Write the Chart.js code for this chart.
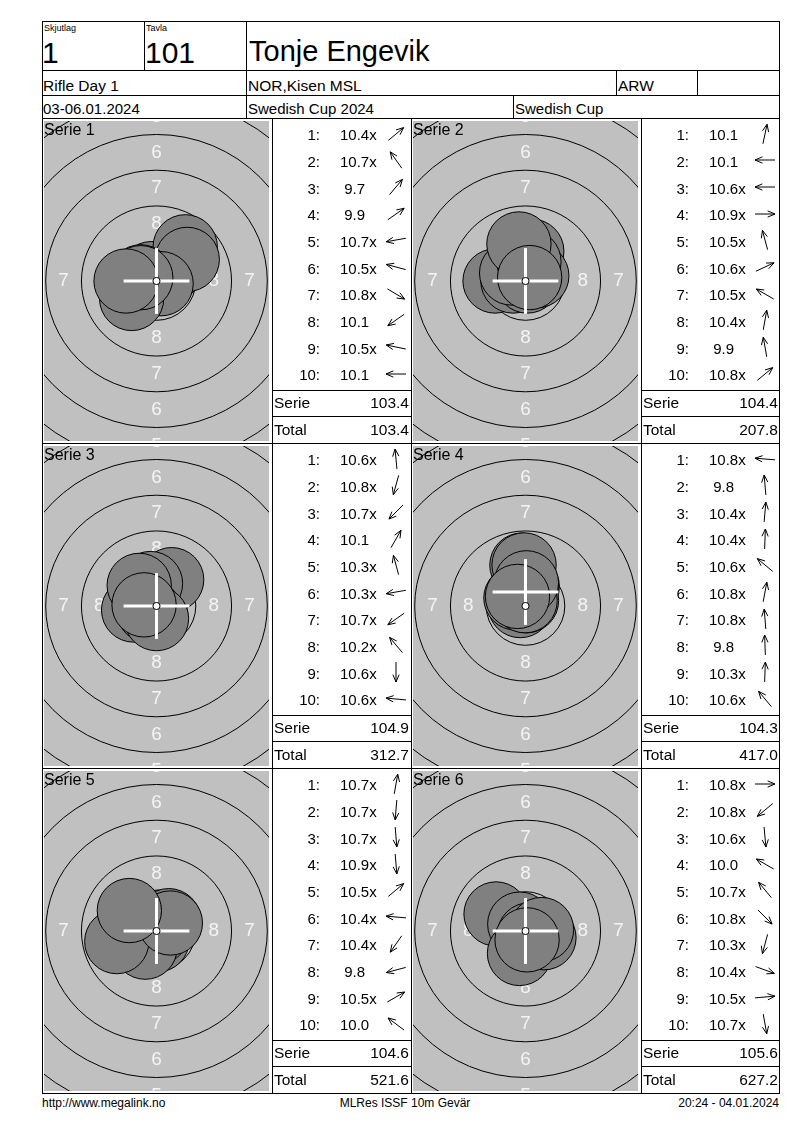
<!DOCTYPE html>
<html>
<head>
<meta charset="utf-8">
<script src="https://cdn.jsdelivr.net/npm/chart.js@4.4.1/dist/chart.umd.min.js"></script>
<style>
body { margin: 0; background: #fff; font-family: "Liberation Sans", Arial, sans-serif; color: #000; }
#page { position: relative; width: 800px; height: 1130px; overflow: hidden; }
.ln { position: absolute; background: #000; }
.t { position: absolute; white-space: pre; line-height: 1; }
canvas { position: absolute; }
</style>
</head>
<body>
<div id="page"></div>
<script>
// shot scores as printed, and shot centres in mm from the target centre (+y = up)
const scores1 = ['10.4x', '10.7x', '9.7', '9.9', '10.7x', '10.5x', '10.8x', '10.1', '10.5x', '10.1'];
const shotX1 = [1.05, -0.36, 2.01, 2.15, -0.62, -1.09, 0.32, -1.74, -1.10, -2.13];
const shotY1 = [0.88, 0.51, 2.39, 1.51, -0.11, 0.29, -0.19, -1.22, 0.23, 0.00];

const scores2 = ['10.1', '10.1', '10.6x', '10.9x', '10.5x', '10.6x', '10.5x', '10.4x', '9.9', '10.8x'];
const shotX2 = [0.44, -2.13, -0.88, 0.13, -0.29, 0.79, -0.97, 0.24, -0.46, 0.29];
const shotY2 = [2.08, 0.00, 0.00, 0.00, 1.09, 0.37, 0.56, 1.35, 2.59, 0.24];

const scores3 = ['10.6x', '10.8x', '10.7x', '10.1', '10.3x', '10.3x', '10.7x', '10.2x', '10.6x', '10.6x'];
const shotX3 = [-0.08, -0.10, -0.44, 1.06, -0.42, -1.60, -0.51, -1.21, 0.00, -0.87];
const shotY3 = [0.87, -0.36, -0.44, 1.84, 1.57, -0.28, -0.36, 1.44, -0.88, 0.08];

const scores4 = ['10.8x', '9.8', '10.4x', '10.4x', '10.6x', '10.8x', '10.8x', '9.8', '10.3x', '10.6x'];
const shotX4 = [-0.37, -0.25, 0.12, 0.05, -0.67, 0.07, -0.03, -0.10, 0.06, -0.56];
const shotY4 = [0.03, 2.86, 1.37, 1.37, 0.56, 0.37, 0.37, 2.87, 1.62, 0.67];

const scores5 = ['10.7x', '10.7x', '10.7x', '10.9x', '10.5x', '10.4x', '10.4x', '9.8', '10.5x', '10.0'];
const shotX5 = [0.11, -0.05, 0.05, 0.01, 0.86, -1.37, -0.79, -2.78, 0.97, -1.90];
const shotY5 = [0.62, -0.62, -0.62, -0.12, 0.72, 0.12, -1.13, -0.74, 0.56, 1.43];

const scores6 = ['10.8x', '10.8x', '10.6x', '10.0', '10.7x', '10.8x', '10.3x', '10.4x', '10.5x', '10.7x'];
const shotX6 = [0.38, -0.29, 0.08, -2.06, -0.40, 0.27, -0.42, 1.29, 1.12, 0.11];
const shotY6 = [0.00, -0.24, -0.87, 1.19, 0.48, -0.27, -1.57, -0.47, 0.10, -0.62];

const serieSums = [103.4, 104.4, 104.9, 104.3, 104.6, 105.6];
const runningTotals = [103.4, 207.8, 312.7, 417.0, 521.6, 627.2];

// white cross marks, mm
const crossX = [0, 0, 0, 0, 0, 0];
const crossY = [0, 0, 0, 0.98, 0, 0];

// target geometry (mm)
const ringRadii = [2.75, 5.25, 7.75, 10.25, 12.75];
const tenRing = 0.25;
const pellet = 2.25;
const ringLabels = ['8', '7', '6', '5'];
const ringLabelPos = [4.0, 6.5, 9.0, 11.5];

const allScores = [scores1, scores2, scores3, scores4, scores5, scores6];
const allX = [shotX1, shotX2, shotX3, shotX4, shotX5, shotX6];
const allY = [shotY1, shotY2, shotY3, shotY4, shotY5, shotY6];

const page = document.getElementById('page');

function hline(y, x1, x2) {
    const d = document.createElement('div');
    d.className = 'ln';
    d.style.cssText = `left:${x1}px;top:${y}px;width:${x2 - x1 + 1}px;height:1px`;
    page.appendChild(d);
}
function vline(x, y1, y2) {
    const d = document.createElement('div');
    d.className = 'ln';
    d.style.cssText = `left:${x}px;top:${y1}px;width:1px;height:${y2 - y1 + 1}px`;
    page.appendChild(d);
}
function text(str, x, y, size, align, family) {
    const el = document.createElement('div');
    el.className = 't';
    el.textContent = str;
    el.style.fontSize = size + 'px';
    el.style.top = y + 'px';
    if (align === 'right') {
        el.style.left = (x - 300) + 'px'; el.style.width = '300px'; el.style.textAlign = 'right';
    } else if (align === 'center') {
        el.style.left = (x - 300) + 'px'; el.style.width = '600px'; el.style.textAlign = 'center';
    } else {
        el.style.left = x + 'px';
    }
    if (family) el.style.fontFamily = family;
    page.appendChild(el);
}
function arrow(cx, cy, ang) {
    const ns = 'http://www.w3.org/2000/svg';
    const svg = document.createElementNS(ns, 'svg');
    svg.setAttribute('width', 26);
    svg.setAttribute('height', 26);
    svg.style.position = 'absolute';
    svg.style.left = (cx - 13) + 'px';
    svg.style.top = (cy - 13) + 'px';
    const c = Math.cos(ang), s = Math.sin(ang), L = 10, B = 8, k = 0.40;
    const hx = 13 + L * c, hy = 13 - L * s, tx = 13 - L * c, ty = 13 + L * s;
    const b1 = ang + Math.PI - k, b2 = ang + Math.PI + k;
    const p = document.createElementNS(ns, 'path');
    p.setAttribute('d', `M${tx} ${ty}L${hx} ${hy}M${hx + B * Math.cos(b1)} ${hy - B * Math.sin(b1)}L${hx} ${hy}L${hx + B * Math.cos(b2)} ${hy - B * Math.sin(b2)}`);
    p.setAttribute('stroke', '#000');
    p.setAttribute('stroke-width', '1');
    p.setAttribute('fill', 'none');
    svg.appendChild(p);
    page.appendChild(svg);
}

// ---- header ----
hline(21, 42, 779); hline(70, 42, 779); hline(95, 42, 779); hline(118, 42, 779);
vline(42, 21, 1093); vline(779, 21, 1093);
vline(144, 21, 70); vline(246, 21, 118);
vline(616, 70, 95); vline(697, 70, 95); vline(513, 95, 118);

text('Skjutlag', 44, 24, 9);
text('Tavla', 146, 24, 9);
text('1', 42, 38, 30);
text('101', 145, 38, 30);
text('Tonje Engevik', 249, 37, 29);
text('Rifle Day 1', 43, 78, 15.5);
text('NOR,Kisen MSL', 248, 78, 15.5);
text('ARW', 618, 78, 15.5);
text('03-06.01.2024', 43, 101, 15);
text('Swedish Cup 2024', 248, 101, 15);
text('Swedish Cup', 515, 101, 15);

// ---- panels ----
const colLines = [42, 272, 411, 641, 779];
const rowTops = [118, 443, 768];
[272, 411, 641].forEach(x => vline(x, 118, 1093));
[443, 768, 1093].forEach(y => hline(y, 42, 779));

function mmPx(chart, mm) {
    const s = chart.scales.x;
    const v = Math.abs(s.getPixelForValue(mm) - s.getPixelForValue(0));
    return isFinite(v) ? v : 0;
}

const targetPlugin = {
    id: 'target',
    beforeDraw(chart) {
        const { ctx, chartArea: a } = chart;
        ctx.save();
        ctx.fillStyle = '#c0c0c0';
        ctx.fillRect(a.left, a.top, a.right - a.left, a.bottom - a.top);
        ctx.restore();
    },
    afterDatasetDraw(chart, args) {
        if (args.index !== 0) return;
        const { ctx, chartArea: a, scales: { x, y } } = chart;
        ctx.save();
        ctx.beginPath();
        ctx.rect(a.left, a.top, a.right - a.left, a.bottom - a.top);
        ctx.clip();
        ctx.font = '19px "Liberation Sans", Arial, sans-serif';
        ctx.fillStyle = '#f4f4f4';
        ctx.textAlign = 'center';
        ctx.textBaseline = 'middle';
        ringLabels.forEach((lab, i) => {
            const d = ringLabelPos[i];
            ctx.fillText(lab, x.getPixelForValue(0), y.getPixelForValue(d));
            ctx.fillText(lab, x.getPixelForValue(0), y.getPixelForValue(-d));
            ctx.fillText(lab, x.getPixelForValue(d), y.getPixelForValue(0));
            ctx.fillText(lab, x.getPixelForValue(-d), y.getPixelForValue(0));
        });
        ctx.restore();
    },
    afterDraw(chart, args, opts) {
        const ctx = chart.ctx;
        ctx.save();
        ctx.font = '16px "Liberation Sans", Arial, sans-serif';
        ctx.fillStyle = '#000';
        ctx.textAlign = 'left';
        ctx.textBaseline = 'alphabetic';
        ctx.fillText(opts.title, 0, 14);
        ctx.restore();
    }
};

for (let k = 0; k < 6; k++) {
    const col = k % 2, row = Math.floor(k / 2);
    const top = rowTops[row];
    const tLeft = colLines[col * 2];
    const L = colLines[col * 2 + 1];
    const R = colLines[col * 2 + 2];

    // target
    const cv = document.createElement('canvas');
    cv.width = 225; cv.height = 320;
    cv.style.left = (tLeft + 2) + 'px';
    cv.style.top = (top + 3) + 'px';
    page.appendChild(cv);

    const xs = allX[k], ys = allY[k];
    const arm = 2.3;

    new Chart(cv.getContext('2d'), {
        type: 'scatter',
        data: {
            datasets: [
                {
                    // scoring rings
                    data: ringRadii.map(() => ({ x: 0, y: 0 })),
                    pointRadius: c => mmPx(c.chart, ringRadii[c.dataIndex]),
                    pointBackgroundColor: 'rgba(0,0,0,0)',
                    pointBorderColor: '#000',
                    pointBorderWidth: 1,
                    order: 6
                },
                {
                    // shots, drawn in firing order
                    data: xs.map((v, i) => ({ x: v, y: ys[i] })),
                    pointRadius: c => mmPx(c.chart, pellet),
                    pointBackgroundColor: '#808080',
                    pointBorderColor: '#000',
                    pointBorderWidth: 1,
                    order: 5
                },
                {
                    data: [{ x: crossX[k] - arm, y: crossY[k] }, { x: crossX[k] + arm, y: crossY[k] }],
                    showLine: true,
                    borderColor: '#fff',
                    borderWidth: 3,
                    pointRadius: 0,
                    order: 3
                },
                {
                    data: [{ x: crossX[k], y: crossY[k] - arm }, { x: crossX[k], y: crossY[k] + arm }],
                    showLine: true,
                    borderColor: '#fff',
                    borderWidth: 3,
                    pointRadius: 0,
                    order: 3
                },
                {
                    // ten ring dot
                    data: [{ x: 0, y: 0 }],
                    pointRadius: c => mmPx(c.chart, tenRing),
                    pointBackgroundColor: '#fff',
                    pointBorderColor: '#000',
                    pointBorderWidth: 1,
                    order: 1
                }
            ]
        },
        options: {
            responsive: false,
            animation: false,
            events: [],
            layout: { padding: 0, autoPadding: false },
            scales: {
                x: { type: 'linear', min: -7.87, max: 7.87, display: false },
                y: { type: 'linear', min: -11.19, max: 11.19, display: false }
            },
            plugins: {
                legend: { display: false },
                tooltip: { enabled: false },
                target: { title: 'Serie ' + (k + 1) }
            }
        },
        plugins: [targetPlugin]
    });

    // shot list
    hline(top + 272, L, R);
    hline(top + 298, L, R);
    allScores[k].forEach((sc, i) => {
        const yc = top + 16.7 + i * 26.67;
        text((i + 1) + ':', L + 48, yc - 7.3, 15, 'right');
        text(sc.startsWith('9') ? ' ' + sc : sc, L + 68, yc - 7.3, 15);
        arrow(L + 124, yc - 1, Math.atan2(ys[i], xs[i]));
    });
    text('Serie', L + 2, top + 285 - 7.6, 15.5);
    text(serieSums[k].toFixed(1), L + 137, top + 285 - 7.6, 15.5, 'right');
    text('Total', L + 2, top + 311.7 - 7.6, 15.5);
    text(runningTotals[k].toFixed(1), L + 137, top + 311.7 - 7.6, 15.5, 'right');
}

// ---- footer ----
const narrow = '"Liberation Sans Narrow", "Liberation Sans", Arial, sans-serif';
text('http://www.megalink.no', 42, 1097, 12, 'left', narrow);
text('MLRes ISSF 10m Gevär', 405, 1097, 12, 'center', narrow);
text('20:24 - 04.01.2024', 779, 1097, 12, 'right', narrow);
</script>
</body>
</html>
